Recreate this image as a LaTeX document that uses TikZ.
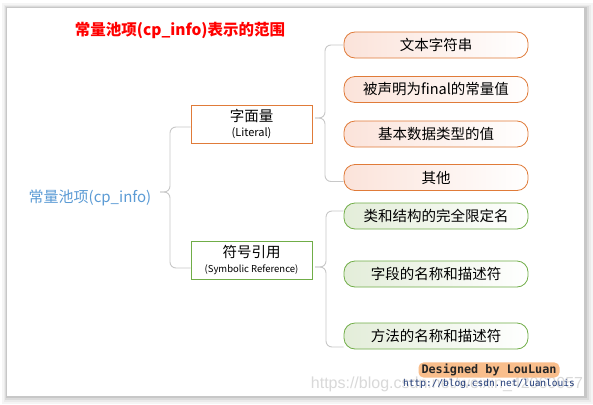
\documentclass[tikz,border=0pt]{standalone}
\usepackage{fontspec}
\setmainfont{Noto Sans CJK SC}
\setmonofont{DejaVu Sans Mono}
\newfontfamily\wmfont{Liberation Sans}
\definecolor{linegray}{HTML}{C8C8C8}
\definecolor{orangeline}{HTML}{E07B39}
\definecolor{orangefill}{HTML}{FBE3DA}
\definecolor{greenline}{HTML}{70AD47}
\definecolor{greenfill}{HTML}{E3EDD9}
\definecolor{rootblue}{HTML}{5B9BD5}
\definecolor{glow}{HTML}{F9BE8C}
\definecolor{urlblue}{HTML}{1F3A78}
\begin{document}
\begin{tikzpicture}[x=1pt,y=-1pt,
  conn/.style={draw=linegray, line width=0.9pt, rounded corners=6pt},
  leaf/.style={line width=0.8pt, rounded corners=11pt, minimum width=184pt, minimum height=26pt, inner sep=0pt, font=\fontsize{14.5}{16}\selectfont},
  leafo/.style={leaf, draw=orangeline, left color=orangefill, right color=white},
  leafg/.style={leaf, draw=greenline, left color=greenfill, right color=white},
  cat/.style={line width=0.8pt, minimum width=121pt, minimum height=38pt, inner sep=0pt, fill=white, align=center},
]
\useasboundingbox (0,0) rectangle (593,404);
% page with shadow
\fill[black!4] (2,3) rectangle (593,404);
\fill[black!8] (4,5) rectangle (591,402);
\fill[black!14] (5,6) rectangle (589,400);
\fill[black!22] (6,7) rectangle (587,398);
\fill[white] (7,8) rectangle (584,396);

% title
\node[text=red, font=\fontsize{15.5}{18}\selectfont\bfseries] (title) at (180,30) {常量池项(cp\_info)表示的范围};

% root
\node[text=rootblue, font=\fontsize{15}{18}\selectfont, inner sep=1pt] (root) at (90,198) {常量池项(cp\_info)};

% categories
\node[cat, draw=orangeline] (lit) at (251.5,124) {{\fontsize{14.5}{16}\selectfont 字面量}\\[2.5pt]{\fontsize{11}{13}\selectfont (Literal)}};
\node[cat, draw=greenline] (sym) at (251.5,260) {{\fontsize{14.5}{16}\selectfont 符号引用}\\[2.5pt]{\fontsize{9.5}{12}\selectfont (Symbolic Reference)}};

% leaves
\node[leafo] (o1) at (436,45) {文本字符串};
\node[leafo] (o2) at (436,89.5) {被声明为final的常量值};
\node[leafo] (o3) at (436,134) {基本数据类型的值};
\node[leafo] (o4) at (436,177.5) {其他};
\node[leafg] (g1) at (436,216) {类和结构的完全限定名};
\node[leafg] (g2) at (436,274) {字段的名称和描述符};
\node[leafg] (g3) at (436,336) {方法的名称和描述符};

% braces
\coordinate (rt) at (160,192);
\draw[conn] ([yshift=-3pt]lit.west) -| (170,192) -- (rt);
\draw[conn] ([yshift=-8pt]sym.west) -| (170,192) -- (rt);
\coordinate (lt) at (315,118);
\draw[conn] (o1.west) -| (325,118) -- (lt);
\draw[conn] ([yshift=-4pt]o4.west) -| (325,118) -- (lt);
\coordinate (st) at (315,267);
\draw[conn] ([yshift=5pt]g1.west) -| (326,267) -- (st);
\draw[conn] ([yshift=-11pt]g3.west) -| (326,267) -- (st);

% credits
\node[text=black!15, font=\wmfont\fontsize{16}{18}\selectfont] (wm) at (447,384) {https://blog.csdn.net/weixin\_42060057};
\node[fill=glow, rounded corners=5pt, inner xsep=3pt, inner ysep=1.5pt, text=black!85, font=\ttfamily\bfseries\fontsize{11.8}{13}\selectfont] (des) at (489,370) {Designed by LouLuan};
\node[text=urlblue, font=\ttfamily\fontsize{9.5}{11}\selectfont, inner sep=0pt] (url) at (489,384) {http://blog.csdn.net/luanlouis};
\end{tikzpicture}
\end{document}
